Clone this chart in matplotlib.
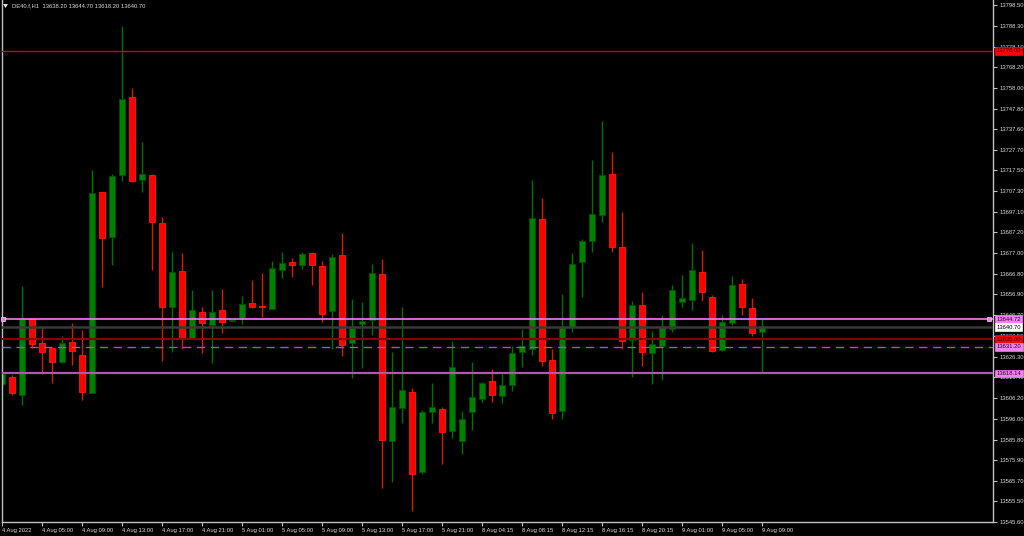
import numpy as np
import matplotlib.pyplot as plt
from matplotlib.patches import Rectangle, Polygon

# DE40.f H1 bars, 4 Aug 2022 ... 9 Aug 09:00
opens = [13613.0, 13616.6, 13607.6, 13644.8, 13633.1, 13630.5, 13623.9, 13633.4, 13627.2, 13608.7,
         13706.8, 13685.1, 13715.1, 13753.5, 13712.8, 13715.3, 13691.6, 13650.8, 13668.3, 13635.4,
         13648.2, 13641.9, 13649.2, 13643.8, 13645.4, 13652.5, 13651.2, 13649.9, 13668.9, 13672.7,
         13671.1, 13677.0, 13670.8, 13648.9, 13676.0, 13633.0, 13642.5, 13644.2, 13666.8, 13584.9,
         13601.4, 13609.1, 13569.9, 13599.3, 13600.9, 13589.8, 13585.2, 13599.3, 13605.7, 13614.5,
         13607.3, 13612.6, 13628.7, 13630.1, 13693.8, 13624.7, 13599.9, 13640.9, 13672.7, 13683.1,
         13695.6, 13715.8, 13680.1, 13634.7, 13651.5, 13628.3, 13631.7, 13640.1, 13653.0, 13654.0,
         13667.8, 13655.4, 13629.6, 13642.7, 13661.9, 13650.2, 13638.2]
highs = [13618.9, 13617.4, 13661.0, 13645.0, 13641.4, 13630.6, 13636.5, 13643.0, 13639.4, 13717.7,
         13707.0, 13715.8, 13788.2, 13758.0, 13731.4, 13715.8, 13694.9, 13677.8, 13677.0, 13659.0,
         13650.8, 13659.0, 13659.3, 13644.6, 13656.2, 13663.9, 13667.5, 13673.2, 13677.6, 13674.7,
         13677.8, 13677.8, 13673.3, 13676.6, 13686.8, 13654.6, 13653.0, 13671.9, 13674.3, 13628.5,
         13650.7, 13610.9, 13600.3, 13613.5, 13601.9, 13634.0, 13599.9, 13623.9, 13614.1, 13620.3,
         13617.9, 13631.4, 13639.9, 13712.8, 13703.9, 13630.1, 13657.0, 13677.0, 13684.0, 13722.6,
         13741.7, 13726.7, 13697.3, 13653.8, 13657.9, 13638.9, 13646.8, 13661.4, 13666.3, 13681.9,
         13678.7, 13656.5, 13646.8, 13666.0, 13664.4, 13654.9, 13644.7]
lows = [13612.0, 13607.6, 13602.7, 13630.8, 13617.7, 13613.3, 13623.1, 13622.3, 13605.2, 13608.5,
        13660.6, 13671.2, 13712.5, 13712.1, 13707.1, 13668.8, 13624.4, 13628.5, 13630.1, 13635.0,
        13628.0, 13623.1, 13637.8, 13643.7, 13642.2, 13650.4, 13645.6, 13649.5, 13665.0, 13665.5,
        13669.1, 13661.6, 13643.5, 13630.0, 13626.8, 13616.1, 13620.7, 13637.0, 13561.9, 13565.2,
        13593.8, 13551.0, 13568.9, 13593.8, 13573.8, 13586.7, 13578.7, 13590.5, 13604.0, 13604.0,
        13603.8, 13609.7, 13621.5, 13627.2, 13622.0, 13595.9, 13595.9, 13638.6, 13655.7, 13677.5,
        13692.1, 13677.5, 13630.1, 13616.6, 13622.0, 13612.8, 13614.9, 13638.4, 13650.8, 13649.2,
        13653.8, 13628.5, 13629.3, 13641.9, 13646.8, 13636.5, 13618.2]
closes = [13617.9, 13608.4, 13644.8, 13632.4, 13628.8, 13623.9, 13633.0, 13629.3, 13609.2, 13706.3,
          13684.6, 13714.8, 13752.6, 13712.4, 13715.8, 13692.4, 13650.5, 13668.0, 13635.7, 13649.1,
          13642.7, 13648.4, 13643.5, 13644.5, 13652.2, 13650.5, 13650.5, 13669.8, 13672.2, 13671.4,
          13676.8, 13671.1, 13647.4, 13675.2, 13632.2, 13640.5, 13643.8, 13667.3, 13585.4, 13601.7,
          13610.1, 13569.1, 13599.1, 13601.6, 13589.5, 13621.5, 13595.9, 13606.6, 13613.5, 13607.8,
          13612.4, 13628.0, 13631.4, 13694.2, 13624.4, 13598.9, 13640.5, 13671.9, 13683.0, 13696.3,
          13715.3, 13680.1, 13634.2, 13651.7, 13628.7, 13632.4, 13640.9, 13659.0, 13654.9, 13668.6,
          13658.0, 13629.3, 13643.3, 13661.3, 13650.7, 13638.1, 13640.7]

xlabels = ["4 Aug 2022", "4 Aug 05:00", "4 Aug 09:00", "4 Aug 13:00", "4 Aug 17:00", "4 Aug 21:00",
           "5 Aug 01:00", "5 Aug 05:00", "5 Aug 09:00", "5 Aug 13:00", "5 Aug 17:00", "5 Aug 21:00",
           "8 Aug 04:15", "8 Aug 08:15", "8 Aug 12:15", "8 Aug 16:15", "8 Aug 20:15", "9 Aug 01:00",
           "9 Aug 05:00", "9 Aug 09:00"]
yticks = [13798.50, 13788.30, 13778.10, 13768.20, 13758.00, 13747.80, 13737.60, 13727.70, 13717.50,
          13707.30, 13697.10, 13687.20, 13677.00, 13666.80, 13656.90, 13646.70, 13636.50, 13626.30,
          13616.40, 13606.20, 13596.00, 13585.80, 13575.90, 13565.70, 13555.50, 13545.60]

# horizontal levels: price, line colour, style, width, box colour, text colour
levels = [
    (13776.00, "#d00000", "-", 1.0, "#ff0000", "#200000"),
    (13644.72, "#ee82ee", "-", 1.2, "#ee82ee", "#300030"),
    (13640.70, "#3a3a3a", "-", 1.8, "#ffffff", "#000000"),
    (13635.00, "#8a0000", "-", 1.5, "#ff0000", "#200000"),
    (13631.20, "#b050b0", (0, (6, 4)), 1.0, "#ee82ee", "#300030"),
    (13618.14, "#b455b4", "-", 1.6, "#ee82ee", "#300030"),
]

W, H = 1024, 536
fig = plt.figure(figsize=(W / 100, H / 100), dpi=100, facecolor="black")
ax = fig.add_axes([2 / W, 14 / H, 991 / W, 522 / H], facecolor="black")

up, dn = "#008000", "#ff0000"
x = np.arange(len(opens))
o = np.array(opens); c = np.array(closes); h = np.array(highs); l = np.array(lows)
cols = [up if cc >= oo else dn for oo, cc in zip(o, c)]
wick_cols = ["#007000" if cc >= oo else "#d02000" for oo, cc in zip(o, c)]
ax.vlines(x, l, h, colors=wick_cols, linewidth=1.0, zorder=1)
bot = np.minimum(o, c)
hgt = np.maximum(np.abs(c - o), 0.5)
ax.bar(x, hgt, bottom=bot, width=0.68, color=cols, edgecolor=["#005000" if cc >= oo else "#ff2000" for oo, cc in zip(o, c)],
       linewidth=0.6, zorder=2)

for p, lc, ls, lw, bc, tc in levels:
    ax.axhline(p, color=lc, linestyle=ls, linewidth=lw, zorder=3)

ax.set_xlim(0, 99.1)
ax.set_ylim(13545.44, 13800.95)

ax.yaxis.tick_right()
ax.set_yticks(yticks)
ax.set_yticklabels([f"{v:.2f}" for v in yticks])
ax.set_xticks(np.arange(0, 4 * len(xlabels), 4))
ax.set_xticklabels(xlabels)
ax.tick_params(axis="both", colors="#c0c0c0", labelcolor="#d8d8d8", labelsize=4.2, length=3, width=0.8, pad=1.5)
for t in ax.get_xticklabels():
    t.set_horizontalalignment("left")
    t.set_fontfamily("Liberation Sans")
for t in ax.get_yticklabels():
    t.set_fontfamily("Liberation Sans")

for s in ["top"]:
    ax.spines[s].set_visible(False)
for s in ["left", "right", "bottom"]:
    ax.spines[s].set_color("#c0c0c0")
    ax.spines[s].set_linewidth(1.0)

# price boxes on the right scale
trans = ax.get_yaxis_transform()
for p, lc, ls, lw, bc, tc in levels:
    ax.text(1.0035, p, f"{p:.2f}", transform=trans, ha="left", va="center", fontsize=4.2,
            family="Liberation Sans", color=tc, clip_on=False, zorder=10,
            bbox=dict(boxstyle="square,pad=0.25", facecolor=bc, edgecolor=bc, linewidth=0.5))

# selection handles on the violet line
for xx in [0.001, 0.996]:
    ax.plot([xx], [13644.72], marker="s", markersize=3, color="#ee82ee", markeredgecolor="#ffd0ff",
            markeredgewidth=0.5, transform=trans, clip_on=False, zorder=11)

# header
fig.patches.append(Polygon([[3 / W, 1 - 4 / H], [8 / W, 1 - 4 / H], [5.5 / W, 1 - 8 / H]], closed=True,
                           transform=fig.transFigure, facecolor="#e0e0e0", edgecolor="none"))
fig.text(12 / W, 1 - 6 / H, "DE40.f,H1  13638.20 13644.70 13618.20 13640.70", fontsize=4.2,
         family="Liberation Sans", color="#d8d8d8", ha="left", va="center")

fig.savefig("out.png", dpi=100, facecolor="black")
